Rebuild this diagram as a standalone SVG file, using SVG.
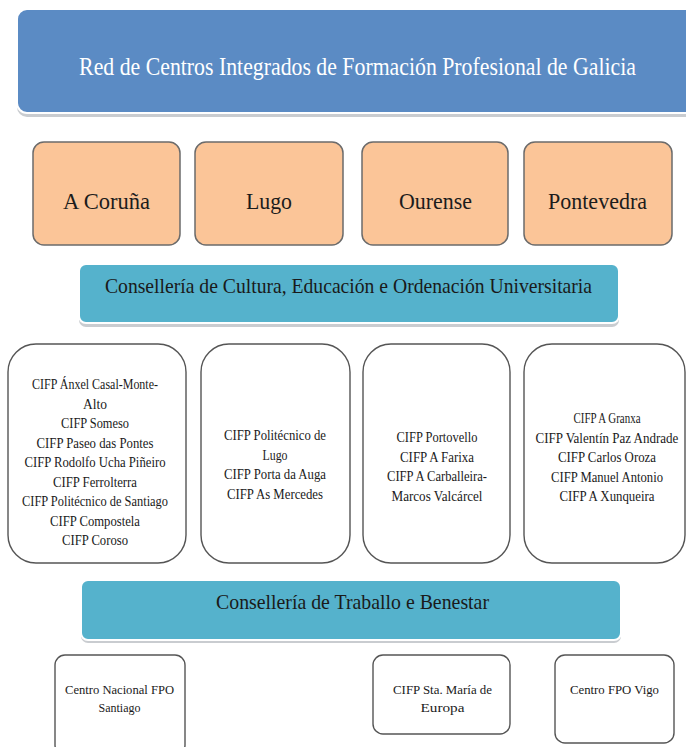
<svg xmlns="http://www.w3.org/2000/svg" width="686" height="747" viewBox="0 0 686 747">
<defs>
<style>
text{font-family:"Liberation Serif","DejaVu Serif","Times New Roman",serif;text-anchor:middle}
.banner{fill:#5b8bc4;stroke:#ffffff;stroke-width:2}
.shadow{fill:#c9ccd0}
.prov{fill:#fbc598;stroke:#6b6b6b;stroke-width:1.5}
.cons{fill:#55b2cc;stroke:#ffffff;stroke-width:2}
.list{fill:#ffffff;stroke:#555555;stroke-width:1.4}
.t-banner{font-size:26px;fill:#ffffff}
.t-prov{font-size:24px;fill:#1c1c1c}
.t-cons{font-size:22px;fill:#1a1a1a}
.t-list{font-size:14.5px;fill:#1a1a1a}
.t-small{font-size:13px;fill:#1a1a1a}
</style>
</defs>
<rect width="686" height="747" fill="#ffffff"/>

<g id="banner">
<rect class="shadow" x="17" y="12" width="680" height="105" rx="10"/>
<rect class="banner" x="17" y="9" width="680" height="104" rx="10"/>
<text class="t-banner" transform="translate(357.5 75) scale(0.8 1)" x="0" y="0" textLength="696" lengthAdjust="spacingAndGlyphs">Red de Centros Integrados de Formación Profesional de Galicia</text>
</g>

<g id="acoruna">
<rect class="prov" x="33" y="142" width="147" height="103" rx="11"/>
<text class="t-prov" x="106.5" y="209" textLength="87" lengthAdjust="spacingAndGlyphs">A Coruña</text>
</g>
<g id="lugo">
<rect class="prov" x="195" y="142" width="148" height="103" rx="11"/>
<text class="t-prov" x="269" y="209" textLength="46" lengthAdjust="spacingAndGlyphs">Lugo</text>
</g>
<g id="ourense">
<rect class="prov" x="362" y="142" width="146" height="103" rx="11"/>
<text class="t-prov" x="435.5" y="209" textLength="73" lengthAdjust="spacingAndGlyphs">Ourense</text>
</g>
<g id="pontevedra">
<rect class="prov" x="524" y="142" width="148" height="103" rx="11"/>
<text class="t-prov" x="597.5" y="209" textLength="99" lengthAdjust="spacingAndGlyphs">Pontevedra</text>
</g>

<g id="cons-cultura">
<rect class="shadow" x="79" y="267" width="540" height="60" rx="7"/>
<rect class="cons" x="79" y="264" width="540" height="59" rx="7"/>
<text class="t-cons" transform="translate(348.5 293) scale(0.85 1)" x="0" y="0" textLength="573" lengthAdjust="spacingAndGlyphs">Consellería de Cultura, Educación e Ordenación Universitaria</text>
</g>

<g id="list-acoruna">
<rect class="list" x="8" y="344" width="178" height="219" rx="28"/>
<text class="t-list" x="95" y="389" textLength="126" lengthAdjust="spacingAndGlyphs">CIFP Ánxel Casal-Monte-</text>
<text class="t-list" x="95" y="408.5" textLength="24" lengthAdjust="spacingAndGlyphs">Alto</text>
<text class="t-list" x="95" y="428" textLength="68" lengthAdjust="spacingAndGlyphs">CIFP Someso</text>
<text class="t-list" x="95" y="447.5" textLength="117" lengthAdjust="spacingAndGlyphs">CIFP Paseo das Pontes</text>
<text class="t-list" x="95" y="467" textLength="141" lengthAdjust="spacingAndGlyphs">CIFP Rodolfo Ucha Piñeiro</text>
<text class="t-list" x="95" y="486.5" textLength="84" lengthAdjust="spacingAndGlyphs">CIFP Ferrolterra</text>
<text class="t-list" x="95" y="506" textLength="146" lengthAdjust="spacingAndGlyphs">CIFP Politécnico de Santiago</text>
<text class="t-list" x="95" y="525.5" textLength="90" lengthAdjust="spacingAndGlyphs">CIFP Compostela</text>
<text class="t-list" x="95" y="545" textLength="66" lengthAdjust="spacingAndGlyphs">CIFP Coroso</text>
</g>

<g id="list-lugo">
<rect class="list" x="201" y="344" width="149" height="219" rx="28"/>
<text class="t-list" x="275" y="440" textLength="102" lengthAdjust="spacingAndGlyphs">CIFP Politécnico de</text>
<text class="t-list" x="275" y="459.5" textLength="25" lengthAdjust="spacingAndGlyphs">Lugo</text>
<text class="t-list" x="275" y="479" textLength="102" lengthAdjust="spacingAndGlyphs">CIFP Porta da Auga</text>
<text class="t-list" x="275" y="498.5" textLength="96" lengthAdjust="spacingAndGlyphs">CIFP As Mercedes</text>
</g>

<g id="list-ourense">
<rect class="list" x="363" y="344" width="147" height="219" rx="28"/>
<text class="t-list" x="437" y="442" textLength="81" lengthAdjust="spacingAndGlyphs">CIFP Portovello</text>
<text class="t-list" x="437" y="461.5" textLength="74" lengthAdjust="spacingAndGlyphs">CIFP A Farixa</text>
<text class="t-list" x="437" y="481" textLength="100" lengthAdjust="spacingAndGlyphs">CIFP A Carballeira-</text>
<text class="t-list" x="437" y="500.5" textLength="91" lengthAdjust="spacingAndGlyphs">Marcos Valcárcel</text>
</g>

<g id="list-pontevedra">
<rect class="list" x="524" y="344" width="161" height="219" rx="28"/>
<text class="t-list" x="607" y="423" textLength="67" lengthAdjust="spacingAndGlyphs">CIFP A Granxa</text>
<text class="t-list" transform="translate(607 442.5) scale(0.85 1)" x="0" y="0" textLength="168" lengthAdjust="spacingAndGlyphs">CIFP Valentín Paz Andrade</text>
<text class="t-list" x="607" y="462" textLength="98" lengthAdjust="spacingAndGlyphs">CIFP Carlos Oroza</text>
<text class="t-list" x="607" y="481.5" textLength="112" lengthAdjust="spacingAndGlyphs">CIFP Manuel Antonio</text>
<text class="t-list" x="607" y="501" textLength="95" lengthAdjust="spacingAndGlyphs">CIFP A Xunqueira</text>
</g>

<g id="cons-traballo">
<rect class="shadow" x="81" y="583" width="540" height="60" rx="7"/>
<rect class="cons" x="81" y="580" width="540" height="60" rx="7"/>
<text class="t-cons" x="352.5" y="609" textLength="273" lengthAdjust="spacingAndGlyphs">Consellería de Traballo e Benestar</text>
</g>

<g id="fpo-santiago">
<rect class="list" x="55" y="655" width="130" height="100" rx="10"/>
<text class="t-small" x="119.5" y="694" textLength="109" lengthAdjust="spacingAndGlyphs">Centro Nacional FPO</text>
<text class="t-small" x="119.5" y="712" textLength="42" lengthAdjust="spacingAndGlyphs">Santiago</text>
</g>

<g id="sta-maria">
<rect class="list" x="373" y="655" width="137" height="79" rx="10"/>
<text class="t-small" x="442.5" y="694" textLength="99" lengthAdjust="spacingAndGlyphs">CIFP Sta. María de</text>
<text class="t-small" x="442.5" y="712" textLength="44" lengthAdjust="spacingAndGlyphs">Europa</text>
</g>

<g id="fpo-vigo">
<rect class="list" x="555" y="655" width="119" height="88" rx="10"/>
<text class="t-small" x="614.5" y="694" textLength="89" lengthAdjust="spacingAndGlyphs">Centro FPO Vigo</text>
</g>

<g id="connectors"></g>
</svg>
